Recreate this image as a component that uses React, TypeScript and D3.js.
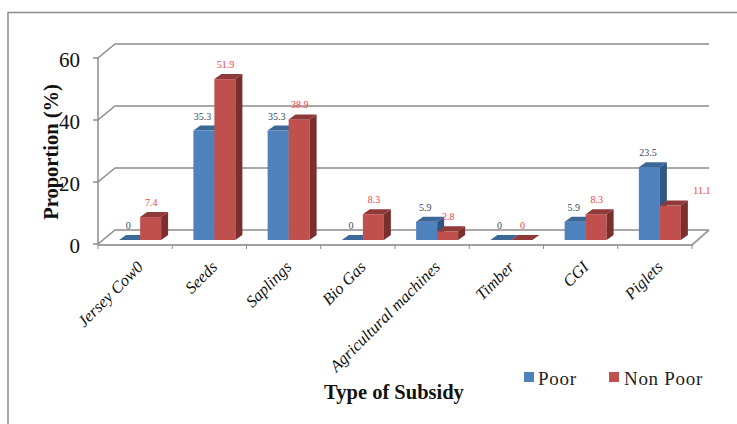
import React, { useEffect, useRef } from 'react';
import * as d3 from 'd3';

const categories = ['Jersey Cow0', 'Seeds', 'Saplings', 'Bio Gas', 'Agricultural machines', 'Timber', 'CGI', 'Piglets'];
const poorValues = [0, 35.3, 35.3, 0, 5.9, 0, 5.9, 23.5];
const nonPoorValues = [7.4, 51.9, 38.9, 8.3, 2.8, 0, 8.3, 11.1];
const yTicks = [0, 20, 40, 60];

const SERIF = "'Liberation Serif', 'DejaVu Serif', serif";

const App: React.FC = () => {
  const svgRef = useRef<SVGSVGElement>(null);

  useEffect(() => {
    if (!svgRef.current) return;
    const svg = d3.select(svgRef.current);
    svg.selectAll('*').remove();

    // 3D offset of the back wall
    const depthX = 17;
    const depthY = -14;

    const x = d3.scaleBand<string>().domain(categories).range([98, 692]);
    const y = d3.scaleLinear().domain([0, 60]).range([244, 58]);

    // outer frame
    svg.append('path')
      .attr('d', 'M8,424V12.5H737')
      .attr('fill', 'none')
      .attr('stroke', '#8c8c8c')
      .attr('stroke-width', 1.5);

    // gridlines along floor and wall
    yTicks.forEach(t => {
      svg.append('path')
        .attr('d', `M${x.range()[0]},${y(t)}L${x.range()[0] + depthX},${y(t) + depthY}H${x.range()[1] + depthX}`)
        .attr('fill', 'none')
        .attr('stroke', '#8c8c8c')
        .attr('stroke-width', 1.5);
      svg.append('line')
        .attr('x1', x.range()[0] - 5).attr('x2', x.range()[0])
        .attr('y1', y(t)).attr('y2', y(t))
        .attr('stroke', '#8c8c8c')
        .attr('stroke-width', 1.5);
      svg.append('text')
        .attr('x', 80).attr('y', y(t) + 8.5)
        .attr('text-anchor', 'end')
        .attr('font-family', SERIF)
        .attr('font-size', 21)
        .attr('fill', '#111')
        .text(t);
    });

    // y axis line, front floor edge, right floor edge
    svg.append('line')
      .attr('x1', 98).attr('x2', 98).attr('y1', y(60)).attr('y2', y(0) + 1)
      .attr('stroke', '#8c8c8c').attr('stroke-width', 1.5);
    svg.append('path')
      .attr('d', `M${x.range()[0]},${y(0) + 1}H${x.range()[1]}L${x.range()[1] + depthX},${y(0) + depthY}`)
      .attr('fill', 'none')
      .attr('stroke', '#a0a0a0')
      .attr('stroke-width', 2);

    // x ticks
    [...categories.map(c => x(c) as number), x.range()[1]].forEach(v => {
      svg.append('line')
        .attr('x1', v).attr('x2', v)
        .attr('y1', y(0) + 1).attr('y2', y(0) + 5)
        .attr('stroke', '#8c8c8c').attr('stroke-width', 1);
    });

    // bars
    const barW = 21;
    const bx = 7;
    const by = -5;
    const base = 240;
    const scale = (y(0) - y(1));
    const drawBar = (left: number, value: number, front: string, top: string, side: string) => {
      const h = value * scale;
      const t = base - h;
      const g = svg.append('g');
      if (h > 0) {
        g.append('rect').attr('x', left).attr('y', t).attr('width', barW).attr('height', h).attr('fill', front);
        g.append('path')
          .attr('d', `M${left + barW},${t}l${bx},${by}V${base + by}l${-bx},${-by}Z`)
          .attr('fill', side);
      }
      g.append('path')
        .attr('d', `M${left},${t}l${bx},${by}h${barW}l${-bx},${-by}Z`)
        .attr('fill', top);
    };

    categories.forEach((c, i) => {
      const cx = (x(c) as number) + x.bandwidth() / 2 + 5;
      drawBar(cx - barW, poorValues[i], '#4f81bd', '#3c6898', '#2f5582');
      drawBar(cx, nonPoorValues[i], '#c0504d', '#8f3a38', '#7b2f2d');
      // piglets non-poor label sits off to the right of the bar
      const isPiglets = c === 'Piglets';
      svg.append('text')
        .attr('x', cx - barW + 9).attr('y', base - poorValues[i] * scale - 11)
        .attr('text-anchor', 'middle')
        .attr('font-family', SERIF)
        .attr('font-size', 10)
        .attr('fill', '#3a4560')
        .text(poorValues[i]);
      svg.append('text')
        .attr('x', isPiglets ? cx + 42 : cx + 11)
        .attr('y', isPiglets ? 194 : base - nonPoorValues[i] * scale - 11)
        .attr('text-anchor', 'middle')
        .attr('font-family', SERIF)
        .attr('font-size', 10)
        .attr('fill', '#ff3b3b')
        .text(nonPoorValues[i]);
    });

    // category labels
    categories.forEach(c => {
      const cx = (x(c) as number) + x.bandwidth() / 2;
      svg.append('text')
        .attr('transform', `translate(${cx + 9},${y(0) + 24}) rotate(-45)`)
        .attr('text-anchor', 'end')
        .attr('font-family', SERIF)
        .attr('font-style', 'italic')
        .attr('font-size', 16.5)
        .attr('fill', '#111')
        .text(c);
    });

    // axis titles
    svg.append('text')
      .attr('transform', 'translate(58,152) rotate(-90)')
      .attr('text-anchor', 'middle')
      .attr('font-family', SERIF)
      .attr('font-weight', 'bold')
      .attr('font-size', 20.5)
      .attr('fill', '#111')
      .text('Proportion (%)');
    svg.append('text')
      .attr('x', 394).attr('y', 399)
      .attr('text-anchor', 'middle')
      .attr('font-family', SERIF)
      .attr('font-weight', 'bold')
      .attr('font-size', 20.5)
      .attr('fill', '#111')
      .text('Type of Subsidy');

    // legend
    const legend = [['Poor', '#4f81bd', 524, 538], ['Non Poor', '#c0504d', 609, 624]] as const;
    legend.forEach(([label, color, rx, tx]) => {
      svg.append('rect').attr('x', rx).attr('y', 372).attr('width', 10).attr('height', 10).attr('fill', color);
      svg.append('text')
        .attr('x', tx).attr('y', 385)
        .attr('font-family', SERIF)
        .attr('font-size', 19)
        .attr('letter-spacing', 0.7)
        .attr('fill', '#222')
        .text(label);
    });
  }, []);

  return <svg ref={svgRef} width={737} height={424} style={{ position: 'absolute', left: 0, top: 0 }} />;
};

export default App;
